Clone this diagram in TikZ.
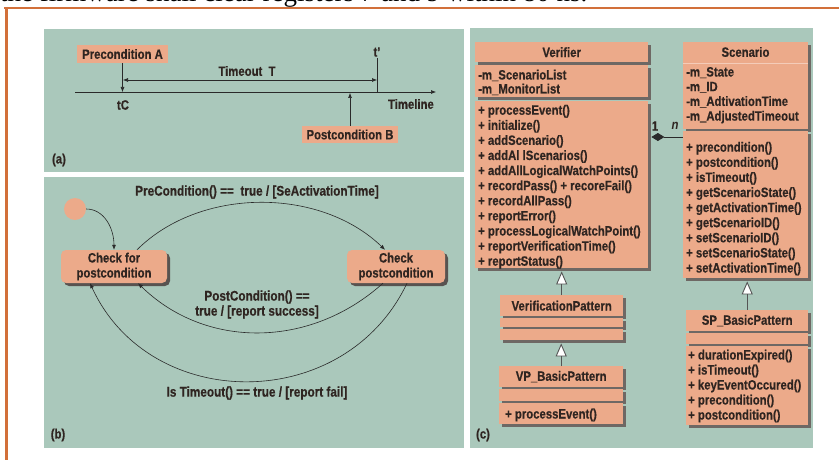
\documentclass[tikz,border=0pt]{standalone}
\usepackage{fontspec}
\setmainfont{Liberation Sans}[FakeStretch=0.84, BoldFeatures={FakeBold=0.5}]
\newfontfamily\topserif{Liberation Serif}
\usetikzlibrary{arrows.meta,shadows}
\definecolor{panelc}{HTML}{AAC8BB}
\definecolor{boxc}{HTML}{ECAA8A}
\definecolor{framec}{HTML}{D2703A}
\definecolor{txtc}{HTML}{2F2521}
\definecolor{shadc}{HTML}{6E6864}
\definecolor{linec}{HTML}{2A2A2A}
\tikzset{
 lab/.style={font=\bfseries\fontsize{13.5}{15}\selectfont, text=txtc, inner sep=0pt},
 blab/.style={lab, font=\bfseries\fontsize{14}{15}\selectfont},
 tag/.style={lab, fill=boxc},
 comp/.style={fill=boxc, draw=none, inner sep=0pt, anchor=north west, drop shadow={shadow xshift=2.5pt, shadow yshift=-2.5pt, fill=shadc, opacity=1}},
 state/.style={lab, align=center, fill=boxc, rounded corners=5pt, minimum height=33pt, drop shadow={shadow xshift=3pt, shadow yshift=-3pt, fill=shadc!80!black, opacity=1}},
 ln/.style={draw=linec, line width=0.6pt},
 tip/.style={-{Latex[length=5pt,width=4pt]}},
 gen/.style={draw=linec!80, line width=0.9pt, -{Triangle[open, fill=white, length=13pt, width=11pt]}},
}
\begin{document}
\begin{tikzpicture}[x=1pt,y=-1pt]
\useasboundingbox (0,0) rectangle (839,460);
\fill[white] (0,0) rectangle (839,460);
% cut-off running text at the top
\node[anchor=base west, inner sep=0pt, font=\topserif\fontsize{27}{30}\selectfont, text=black] (toptext) at (0,2) {the firmware shall clear registers 7 and 9 within 80 ns.};
% frame
\draw[framec, line width=2.5pt] (4,8) -- (839,8);
\draw[framec, line width=3pt] (6.5,7) -- (6.5,460);
% panels
\fill[panelc] (44,29) rectangle (464,172);
\fill[panelc] (44,177) rectangle (464,448);
\fill[panelc] (470,28) rectangle (813,448);

% ---------- panel (a)
\node[tag, minimum width=91pt, minimum height=18pt] (preA) at (122.5,54) {Precondition A};
\node[tag, minimum width=96pt, minimum height=17pt] (postB) at (350,134.5) {Postcondition B};
\coordinate (tl0) at (75,92);
\coordinate (tl1) at (436,92);
\coordinate (tp) at (377,58);
\coordinate (to0) at (123,80);
\coordinate (to1) at (377,80);
\draw[ln, tip] (tl0) -- (tl1);
\draw[ln, tip] (preA.south) -- (preA.south |- tl0);
\draw[ln] (tp) -- (tp |- tl0);
\draw[ln, {Latex[length=5pt,width=4pt]}-{Latex[length=5pt,width=4pt]}] (to0) -- (to1);
\draw[ln, tip] (postB.north) -- ([yshift=-1pt]postB.north |- tl0);
\node[lab] (lto) at (247,71) {Timeout\ \ T};
\node[lab] (ltp) at (377,52) {t’};
\node[lab] (ltc) at (123,105) {tC};
\node[lab, anchor=east] (ltl) at (434,104) {Timeline};
\node[lab] (la) at (59,160) {(a)};

% ---------- panel (b)
\node[circle, fill=boxc, minimum size=22pt, inner sep=0pt] (init) at (75,209) {};
\node[state, minimum width=106pt] (cfp) at (114,266.5) {Check for\\postcondition};
\node[state, minimum width=98pt] (cp) at (396,266.5) {Check\\postcondition};
\draw[ln, tip] (init.east) .. controls (104,209) and (114,228) .. (cfp.north);
\draw[ln, tip] ([xshift=23pt]cfp.north) .. controls (200,187) and (320,187) .. ([xshift=-11pt]cp.north);
\draw[ln, tip] ([xshift=-13pt]cp.south) .. controls (310,349) and (205,349) .. ([xshift=24pt]cfp.south);
\draw[ln, tip] ([xshift=11pt]cp.south) .. controls (345,414) and (150,414) .. ([xshift=-24pt]cfp.south);
\node[blab] (lpre) at (257,192) {PreCondition() ==\ \ true / [SeActivationTime]};
\node[blab, align=center] (lpost) at (257,304.5) {PostCondition() ==\\true / [report success]};
\node[blab] (lfail) at (257,393) {Is Timeout() == true / [report fail]};
\node[lab] (lb) at (58,435) {(b)};

% ---------- panel (c)
% Verifier
\node[comp, minimum width=173pt, minimum height=20pt] (vname) at (475,42) {};
\node[comp, minimum width=173pt, minimum height=32pt] (vattr) at (475,65) {};
\node[comp, minimum width=173pt, minimum height=167pt] (vmeth) at (475,101) {};
\node[lab] (vnt) at (vname.center) {Verifier};
\node[lab, anchor=base west] (va1) at (478,79.5) {-m\_ScenarioList};
\node[lab, anchor=base west] (va2) at (478,93.5) {-m\_MonitorList};
\foreach \t [count=\i] in {processEvent(), initialize(), addScenario(), addAl lScenarios(), addAllLogicalWatchPoints(), recordPass() + recoreFail(), recordAllPass(), reportError(), processLogicalWatchPoint(), reportVerificationTime(), reportStatus()}
  \node[lab, anchor=base west] (vm\i) at (478,{114.7+15.1*(\i-1)}) {+ \t};
% Scenario
\node[comp, minimum width=125pt, minimum height=87pt] (sattr) at (683,42) {};
\node[comp, minimum width=125pt, minimum height=147pt] (smeth) at (683,131) {};
\draw[boxc!60!white, line width=0.6pt] ([yshift=-21pt]sattr.north west) -- ([yshift=-21pt]sattr.north east);
\node[lab] (snt) at (745.5,52) {Scenario};
\foreach \t [count=\i] in {-m\_State, -m\_ID, -m\_AdtivationTime, -m\_AdjustedTimeout}
  \node[lab, anchor=base west] (sa\i) at (686,{76.5+14.7*(\i-1)}) {\t};
\foreach \t [count=\i] in {precondition(), postcondition(), isTimeout(), getScenarioState(), getActivationTime(), getScenarioID(), setScenarioID(), setScenarioState(), setActivationTime()}
  \node[lab, anchor=base west] (sm\i) at (686,{151.7+15.1*(\i-1)}) {+ \t};
% VerificationPattern
\node[comp, minimum width=123pt, minimum height=21pt] (vpn) at (500,295) {};
\node[comp, minimum width=123pt, minimum height=9pt] (vpe1) at (500,318) {};
\node[comp, minimum width=123pt, minimum height=11pt] (vpe2) at (500,329) {};
\node[lab] (vpt) at (vpn.center) {VerificationPattern};
% VP_BasicPattern
\node[comp, minimum width=124pt, minimum height=21pt] (bpn) at (499,366) {};
\node[comp, minimum width=124pt, minimum height=12pt] (bpe) at (499,389) {};
\node[comp, minimum width=124pt, minimum height=21pt] (bpm) at (499,403) {};
\node[lab] (bpt) at (bpn.center) {VP\_BasicPattern};
\node[lab, anchor=base west] (bpm1) at (505,418.5) {+ processEvent()};
% SP_BasicPattern
\node[comp, minimum width=122pt, minimum height=21pt] (spn) at (686,310) {};
\node[comp, minimum width=122pt, minimum height=11pt] (spe) at (686,333) {};
\node[comp, minimum width=122pt, minimum height=79pt] (spm) at (686,346) {};
\node[lab] (spt) at (spn.center) {SP\_BasicPattern};
\foreach \t [count=\i] in {durationExpired(), isTimeout(), keyEventOccured(), precondition(), postcondition()}
  \node[lab, anchor=base west] (spm\i) at (688,{359.5+15*(\i-1)}) {+ \t};
% relations
\draw[gen] (vpn.north) -- ([yshift=-3pt]vpn.north |- vmeth.south);
\draw[gen] (bpn.north) -- ([yshift=-3pt]bpn.north |- vpe2.south);
\draw[gen] (spn.north) -- ([yshift=-3pt]spn.north |- smeth.south);
\draw[draw=linec, line width=0.8pt, {Diamond[length=13pt,width=8pt]}-, shorten <=3pt] ([yshift=-6pt]smeth.north west -| vmeth.east) -- ([yshift=-6pt]smeth.north west);
\node[lab] (mult1) at (655,126) {1};
\node[lab, font=\bfseries\itshape\fontsize{13.5}{15}\selectfont] (multn) at (675,126) {n};
\node[lab] (lc) at (483,435) {(c)};
\end{tikzpicture}
\end{document}
